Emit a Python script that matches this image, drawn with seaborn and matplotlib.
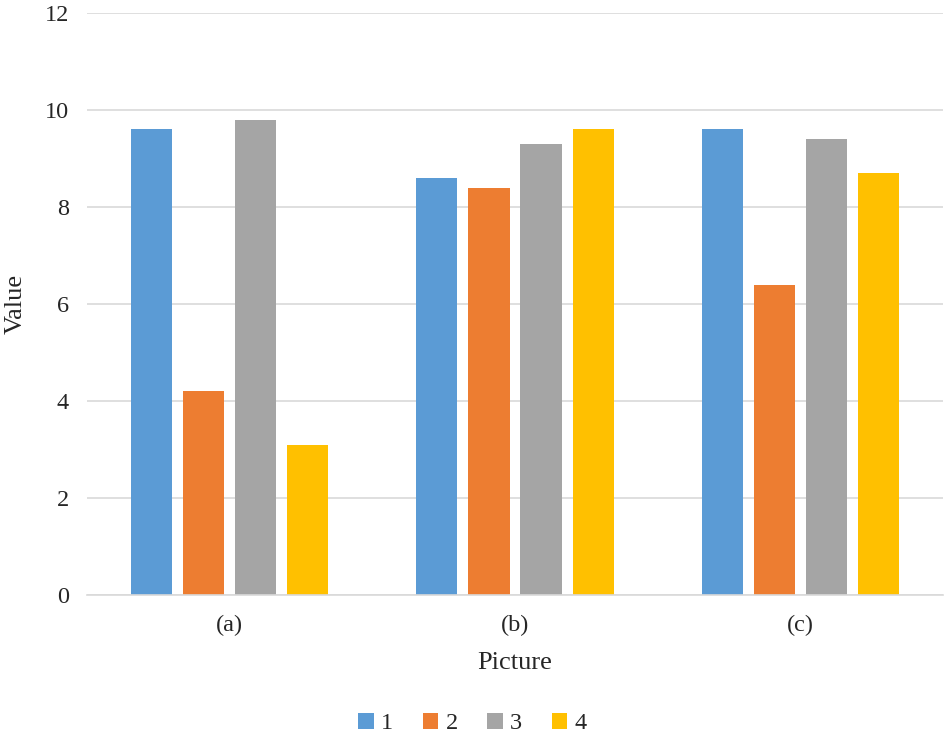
import matplotlib
matplotlib.use("Agg")
import matplotlib.pyplot as plt
import seaborn as sns
import pandas as pd

# -------------data-------------
pictures = ["(a)", "(b)", "(c)"]
series = ["1", "2", "3", "4"]
values_1 = [9.6, 8.6, 9.6]
values_2 = [4.2, 8.4, 6.4]
values_3 = [9.8, 9.3, 9.4]
values_4 = [3.1, 9.6, 8.7]
yticks = [0, 2, 4, 6, 8, 10, 12]

colors = ["#5B9BD5", "#ED7D31", "#A5A5A5", "#FFC000"]

rows = []
for name, vals in zip(series, [values_1, values_2, values_3, values_4]):
    for pic, v in zip(pictures, vals):
        rows.append({"Picture": pic, "Series": name, "Value": v})
df = pd.DataFrame(rows)

sns.set_style("white")
plt.rcParams['font.family'] = ['Liberation Serif', 'DejaVu Serif']

fig = plt.figure(figsize=(9.45, 7.46), dpi=100)
axes = fig.add_axes([0.092, 0.2024, 0.906, 0.7802])

sns.barplot(data=df, x="Picture", y="Value", hue="Series", hue_order=series,
            palette=colors, width=0.73, gap=0.21, saturation=1, linewidth=0,
            ax=axes, legend=True)

axes.set_ylim(0, 12)
axes.set_yticks(yticks)
axes.set_yticklabels(yticks, fontsize=17.5)
axes.tick_params(axis='x', labelsize=17.5, length=0, pad=14)
axes.tick_params(axis='y', length=0, pad=13)
axes.yaxis.grid(True, color="#D9D9D9", linewidth=1.2)
axes.set_axisbelow(True)
for side in ['top', 'right', 'left']:
    axes.spines[side].set_visible(False)
axes.spines['bottom'].set_color("#D9D9D9")
axes.spines['bottom'].set_linewidth(1.2)

axes.set_xlabel("Picture", fontsize=19, labelpad=12)
axes.set_ylabel("Value", fontsize=19, labelpad=13)

handles, labels = axes.get_legend_handles_labels()
axes.get_legend().remove()
fig.legend(handles, labels, loc="center", bbox_to_anchor=(0.5, 0.03), ncol=4,
           frameon=False, fontsize=17.5, handlelength=0.65, handleheight=0.65,
           handletextpad=0.3, columnspacing=1.2)

fig.savefig("out.png", dpi=100)
